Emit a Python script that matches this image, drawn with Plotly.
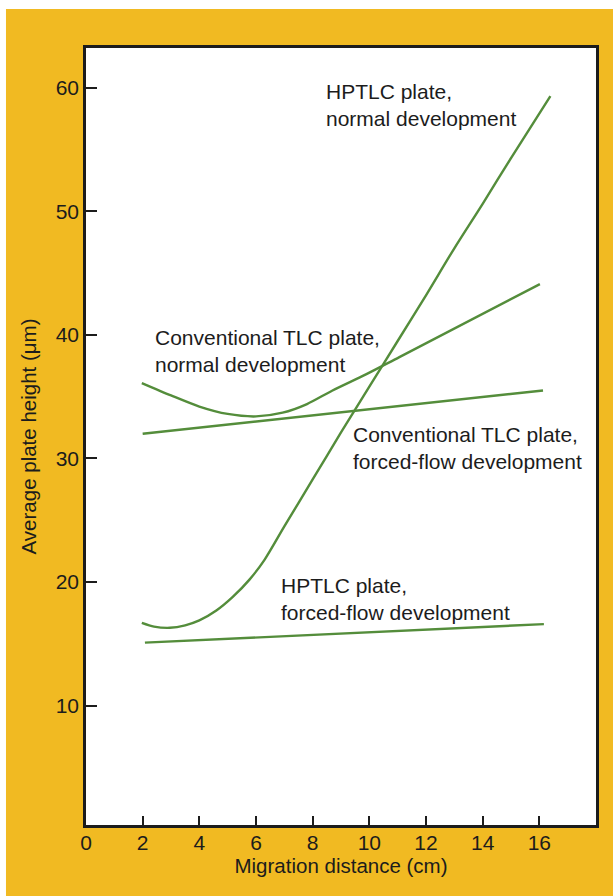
import plotly.graph_objects as go

# Migration distance (cm) vs. average plate height (um) for four plate/development modes
hptlc_normal_x = [1.97, 2.4, 2.96, 3.5, 4.0, 4.6, 5.18, 5.77, 6.3, 7.0, 8.0, 9.0, 10.0, 11.0, 12.0, 13.0, 14.0, 15.0, 16.39]
hptlc_normal_y = [16.7, 16.4, 16.3, 16.5, 16.9, 17.7, 18.8, 20.2, 21.8, 24.5, 28.3, 32.1, 35.8, 39.5, 43.2, 47.0, 50.6, 54.3, 59.3]

tlc_normal_x = [1.97, 3.0, 4.0, 5.0, 6.0, 6.94, 7.8, 8.7, 9.88, 11.06, 16.02]
tlc_normal_y = [36.1, 35.1, 34.2, 33.6, 33.4, 33.7, 34.4, 35.5, 36.8, 38.2, 44.1]

tlc_forced_x = [2.0, 16.13]
tlc_forced_y = [32.0, 35.5]

hptlc_forced_x = [2.08, 16.16]
hptlc_forced_y = [15.1, 16.6]

x_ticks = [0, 2, 4, 6, 8, 10, 12, 14, 16]
y_ticks = [10, 20, 30, 40, 50, 60]

labels = [
    ("HPTLC plate,<br>normal development", 8.4, 60.75),
    ("Conventional TLC plate,<br>normal development", 2.35, 40.9),
    ("Conventional TLC plate,<br>forced-flow development", 9.35, 33.0),
    ("HPTLC plate,<br>forced-flow development", 6.8, 20.8),
]

LINE = "#548D3B"
INK = "#1c1c1c"
GOLD = "#F1BA22"
FONT = "Liberation Sans, Arial, sans-serif"

fig = go.Figure()
for xs, ys in [(hptlc_normal_x, hptlc_normal_y), (tlc_normal_x, tlc_normal_y),
               (tlc_forced_x, tlc_forced_y), (hptlc_forced_x, hptlc_forced_y)]:
    fig.add_trace(go.Scatter(x=xs, y=ys, mode="lines", line=dict(color=LINE, width=2.4, shape="spline", smoothing=0.8),
                             hoverinfo="skip", showlegend=False))

for text, x, y in labels:
    fig.add_annotation(x=x, y=y, text=text, showarrow=False, xanchor="left", yanchor="top", align="left",
                       font=dict(family=FONT, size=21, color=INK))

# white margin strips at the top and left edge of the page
fig.add_shape(type="rect", xref="paper", yref="paper", x0=-0.2, x1=1.1, y0=1.0502, y1=1.08,
              fillcolor="white", line=dict(width=0))
fig.add_shape(type="rect", xref="paper", yref="paper", x0=-0.2, x1=-0.1569, y0=-0.1, y1=1.08,
              fillcolor="white", line=dict(width=0))

fig.update_layout(
    width=613, height=896,
    margin=dict(l=86, r=17, t=48, b=71),
    paper_bgcolor=GOLD, plot_bgcolor="white",
    font=dict(family=FONT, size=21, color=INK),
    xaxis=dict(range=[0, 18], tickvals=x_ticks, ticktext=[str(v) for v in x_ticks],
               ticks="inside", ticklen=9, tickwidth=2, tickcolor=INK, ticklabelstandoff=-3,
               showline=True, linewidth=2.5, linecolor=INK, mirror=True, showgrid=False, zeroline=False,
               title=dict(text="Migration distance (cm)", standoff=4, font=dict(size=20.5))),
    yaxis=dict(range=[0.35, 63.2], tickvals=y_ticks, ticktext=[str(v) for v in y_ticks],
               ticks="inside", ticklen=11, tickwidth=2, tickcolor=INK,
               showline=True, linewidth=2.5, linecolor=INK, mirror=True, showgrid=False, zeroline=False,
               title=dict(text="Average plate height (\u03bcm)", standoff=14, font=dict(size=20.5))),
)

fig.write_html("out.html")
